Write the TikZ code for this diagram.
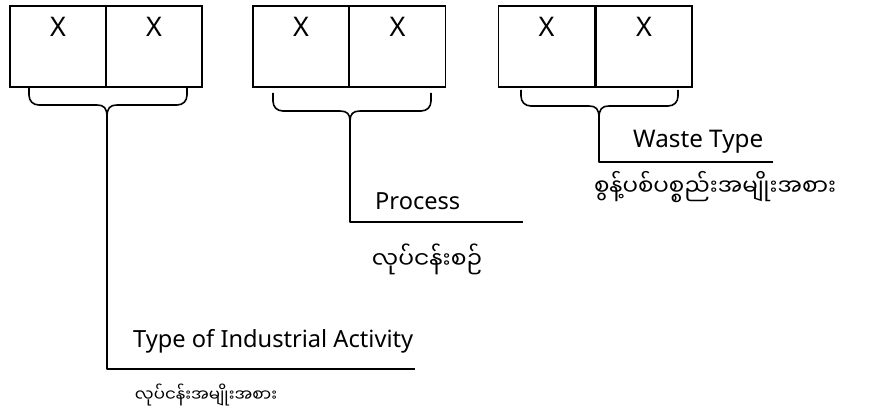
\documentclass[tikz,border=0pt]{standalone}
\usepackage{fontspec}
\usepackage{graphicx}
\setmainfont{Noto Sans}
\newfontfamily\mya[Script=Myanmar]{Noto Sans Myanmar UI}
\tikzset{
  ln/.style={line width=1.6pt, line join=round},
  cell/.style={draw, line width=1.8pt, minimum width=96pt, minimum height=81pt, inner sep=0pt},
  xlbl/.style={inner sep=0pt, font=\fontsize{27}{32}\selectfont},
  lbl/.style={inner sep=0pt},
}
\newcommand\brc[7]{% name L R C T H P
  \draw[ln] (#2,#5) -- (#2,{#6-10}) .. controls (#2,{#6-4}) and ({#2+4},#6) .. ({#2+10},#6)
    -- ({#4-10},#6) .. controls ({#4-3},#6) and (#4,{#6+3}) .. (#4,#7)
    .. controls (#4,{#6+3}) and ({#4+3},#6) .. ({#4+10},#6)
    -- ({#3-10},#6) .. controls ({#3-4},#6) and (#3,{#6-4}) .. (#3,{#6-10}) -- (#3,#5);
  \coordinate (#1) at (#4,#7);
}
\begin{document}
\begin{tikzpicture}[x=1pt,y=-1pt]
\useasboundingbox (0,0) rectangle (873,411);
% cells
\node[cell] (c1a) at (58,46.5) {};
\node[cell] (c1b) at (154,46.5) {};
\node[cell] (c2a) at (301,46.5) {};
\node[cell] (c2b) at (397.5,46.5) {};
\node[cell] (c3a) at (546.5,46.5) {};
\node[cell] (c3b) at (644,46.5) {};
\foreach \c in {c1a,c1b,c2a,c2b,c3a,c3b}{
  \node[xlbl] (x\c) at ([yshift=-22pt]\c.north) {X};
}
% braces
\brc{t1}{29}{187}{107}{88}{105}{117}
\brc{t2}{273}{431}{350}{93}{111}{121}
\brc{t3}{521}{678}{599}{90}{106}{118}
% leader lines
\coordinate (k1) at (107,369);
\coordinate (e1) at (415,369);
\coordinate (k2) at (350,222);
\coordinate (e2) at (523,222);
\coordinate (k3) at (599,162);
\coordinate (e3) at (773,162);
\draw[ln] (t1) -- (k1) -- (e1);
\draw[ln] (t2) -- (k2) -- (e2);
\draw[ln] (t3) -- (k3) -- (e3);
% labels
\node[lbl, anchor=base west] (l1) at (133,348) {\resizebox{280pt}{!}{Type of Industrial Activity}};
\node[lbl] (m1) at (206,395) {\resizebox{142pt}{!}{\mya လုပ်ငန်းအမျိုးအစား}};
\node[lbl, anchor=base west] (l2) at (375,210) {\resizebox{85pt}{!}{Process}};
\node[lbl] (m2) at (427,259) {\resizebox{110pt}{!}{\mya လုပ်ငန်းစဉ်}};
\node[lbl, anchor=base west] (l3) at (633,148) {\resizebox{130pt}{!}{Waste Type}};
\node[lbl] (m3) at (715,187) {\resizebox{242pt}{!}{\mya စွန့်ပစ်ပစ္စည်းအမျိုးအစား}};
\end{tikzpicture}
\end{document}
